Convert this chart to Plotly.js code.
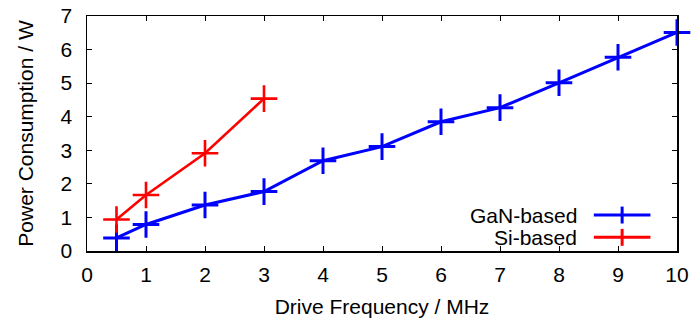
<!DOCTYPE html>
<html>
<head>
<meta charset="utf-8">
<script src="https://cdn.plot.ly/plotly-3.0.1.min.js"></script>
<style>html,body{margin:0;padding:0;background:#fff;}#chart{width:693px;height:320px;}</style>
</head>
<body>
<div id="chart"></div>
<script>
// Data
const ganFreq = [0.5, 1, 2, 3, 4, 5, 6, 7, 8, 9, 10];
const ganPower = [0.39, 0.79, 1.37, 1.77, 2.69, 3.11, 3.85, 4.27, 5.01, 5.77, 6.51];
const siFreq = [0.5, 1, 2, 3];
const siPower = [0.94, 1.67, 2.91, 4.54];
const seriesNames = ["GaN-based", "Si-based"];
const seriesColors = ["#0000ff", "#ff0000"];
const xTicks = [0, 1, 2, 3, 4, 5, 6, 7, 8, 9, 10];
const yTicks = [0, 1, 2, 3, 4, 5, 6, 7];

const font = {family: "Liberation Sans, Arial, sans-serif", size: 21, color: "#000"};

function trace(x, y, i, w) {
  return {
    x: x, y: y, name: seriesNames[i], type: "scatter", mode: "lines+markers",
    line: {color: seriesColors[i], width: w},
    marker: {symbol: "cross-thin-open", size: 19, color: seriesColors[i], line: {color: seriesColors[i], width: w}},
    showlegend: false, cliponaxis: false
  };
}

const data = [trace(ganFreq, ganPower, 0, 3), trace(siFreq, siPower, 1, 2.6)];

// Legend (drawn at right-bottom, text before sample line, like the reference)
const legY = [0.153, 0.058];
const shapes = [];
const annotations = [];
seriesNames.forEach((n, i) => {
  const c = seriesColors[i];
  annotations.push({xref: "paper", yref: "paper", x: 0.834, y: legY[i], xanchor: "right", yanchor: "middle",
    text: n, showarrow: false, font: font});
  shapes.push({type: "line", xref: "paper", yref: "paper", x0: 0.859, x1: 0.955, y0: legY[i], y1: legY[i],
    line: {color: c, width: 3}});
  shapes.push({type: "line", xref: "paper", yref: "paper", x0: 0.907, x1: 0.907, y0: legY[i] - 0.036, y1: legY[i] + 0.036,
    line: {color: c, width: 3}});
});

const layout = {
  width: 693, height: 320,
  margin: {l: 87, r: 16, t: 16, b: 69},
  paper_bgcolor: "#fff", plot_bgcolor: "#fff",
  font: font,
  showlegend: false,
  xaxis: {
    range: [0, 10], tickvals: xTicks, ticktext: xTicks.map(String),
    ticks: "inside", ticklen: 5, tickwidth: 1, tickcolor: "#000",
    showline: true, linecolor: "#000", linewidth: 1.5, mirror: "ticks",
    showgrid: false, zeroline: false, ticklabelstandoff: 4,
    title: {text: "Drive Frequency / MHz", font: font, standoff: 14}
  },
  yaxis: {
    range: [0, 7], tickvals: yTicks, ticktext: yTicks.map(String),
    ticks: "inside", ticklen: 5, tickwidth: 1, tickcolor: "#000",
    showline: true, linecolor: "#000", linewidth: 1.5, mirror: "ticks",
    showgrid: false, zeroline: false, ticklabelstandoff: 9,
    title: {text: "Power Consumption / W", font: font, standoff: 21}
  },
  shapes: shapes,
  annotations: annotations
};

Plotly.newPlot("chart", data, layout, {staticPlot: true, displayModeBar: false});
</script>
</body>
</html>
